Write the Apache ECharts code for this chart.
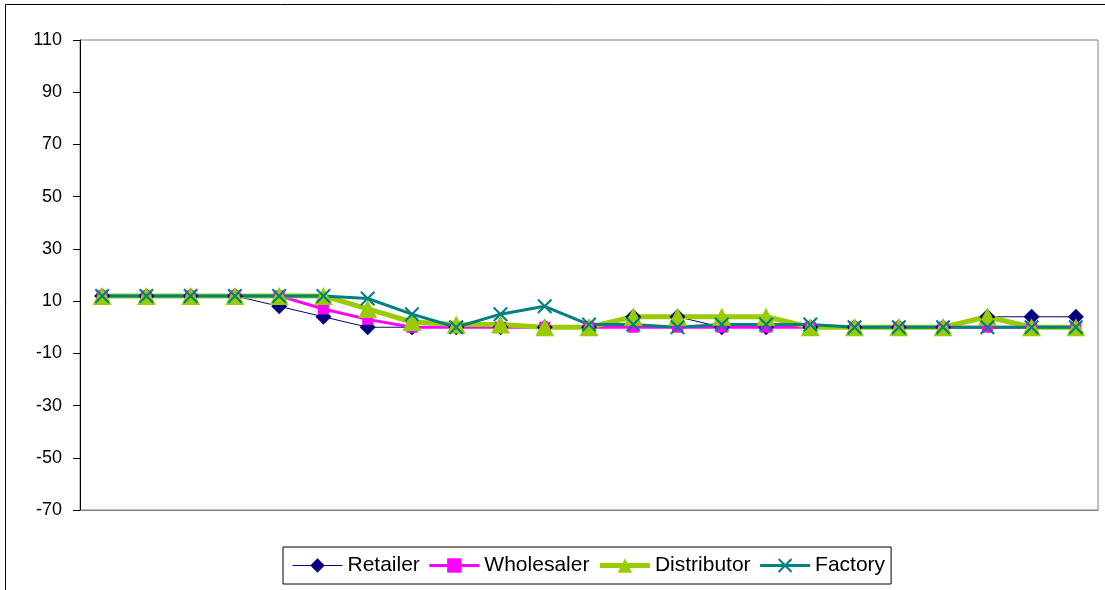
<!DOCTYPE html>
<html>
<head>
<meta charset="utf-8">
<style>
  html, body { margin: 0; padding: 0; background: #fff; }
  #chart { width: 1105px; height: 590px; }
</style>
<script src="https://cdn.jsdelivr.net/npm/echarts@6/dist/echarts.min.js"></script>
</head>
<body>
<div id="chart"></div>
<script>
// Periods 1..23 along the horizontal axis (no labels are printed)
const periods = ['1','2','3','4','5','6','7','8','9','10','11','12','13','14','15','16','17','18','19','20','21','22','23'];

// Values per supply-chain stage
const retailer    = [12,12,12,12, 8, 4, 0, 0, 0, 0, 0, 0, 4, 4, 0, 0, 0, 0, 0, 0, 4, 4, 4];
const wholesaler  = [12,12,12,12,12, 7, 3, 0, 0, 0, 0, 0, 0, 0, 0, 0, 0, 0, 0, 0, 0, 0, 0];
const distributor = [12,12,12,12,12,12, 7, 2, 1, 1, 0, 0, 4, 4, 4, 4, 0, 0, 0, 0, 4, 0, 0];
const factory     = [12,12,12,12,12,12,11, 5, 0, 5, 8, 1, 1, 0, 1, 1, 1, 0, 0, 0, 0, 0, 0];

// Y axis tick labels
const yTicks = [-70, -50, -30, -10, 10, 30, 50, 70, 90, 110];

const FONT = '"Liberation Sans", Arial, sans-serif';
const crossPath = 'path://M0,1 L1,0 L5,4 L9,0 L10,1 L6,5 L10,9 L9,10 L5,6 L1,10 L0,9 L4,5 Z';

const chart = echarts.init(document.getElementById('chart'), null, { renderer: 'canvas' });

chart.setOption({
  animation: false,
  backgroundColor: '#ffffff',
  graphic: [{
    type: 'rect',
    silent: true,
    z: -10,
    shape: { x: 5.5, y: 4.5, width: 1300, height: 800 },
    style: { fill: 'none', stroke: '#000000', lineWidth: 1 }
  }],
  grid: {
    left: 80, right: 7, top: 40, bottom: 80,
    show: true,
    borderColor: '#808080',
    borderWidth: 1,
    backgroundColor: 'transparent'
  },
  legend: {
    left: 283,
    top: 547,
    orient: 'horizontal',
    padding: [8, 6, 8, 9],
    borderColor: '#000000',
    borderWidth: 1,
    itemWidth: 50,
    itemHeight: 18,
    itemGap: 8,
    textStyle: { fontFamily: FONT, fontSize: 21, color: '#000000' },
    data: [
      { name: 'Retailer', lineStyle: { width: 1 } },
      { name: 'Wholesaler', lineStyle: { width: 3 } },
      { name: 'Distributor', lineStyle: { width: 5 } },
      { name: 'Factory', lineStyle: { width: 3 } }
    ]
  },
  xAxis: {
    type: 'category',
    data: periods,
    boundaryGap: true,
    axisLine: { show: true, onZero: false, lineStyle: { color: '#808080', width: 1 } },
    axisTick: { show: false },
    axisLabel: { show: false },
    splitLine: { show: false }
  },
  yAxis: {
    type: 'value',
    min: -70,
    max: 110,
    interval: 10,
    axisLine: { show: true, lineStyle: { color: '#000000', width: 1 } },
    axisTick: {
      show: true, inside: false, length: 7,
      customValues: yTicks,
      lineStyle: { color: '#000000' }
    },
    axisLabel: {
      show: true,
      customValues: yTicks,
      margin: 18,
      fontFamily: FONT,
      fontSize: 18,
      color: '#000000'
    },
    splitLine: { show: false }
  },
  series: [
    {
      name: 'Retailer',
      type: 'line',
      data: retailer,
      symbol: 'diamond',
      symbolSize: 16,
      showAllSymbol: true,
      lineStyle: { color: '#000080', width: 1 },
      itemStyle: { color: '#000080' }
    },
    {
      name: 'Wholesaler',
      type: 'line',
      data: wholesaler,
      symbol: 'rect',
      symbolSize: 11,
      showAllSymbol: true,
      lineStyle: { color: '#FF00FF', width: 3 },
      itemStyle: { color: '#FF00FF' }
    },
    {
      name: 'Distributor',
      type: 'line',
      data: distributor,
      symbol: 'triangle',
      symbolSize: [19, 18],
      showAllSymbol: true,
      lineStyle: { color: '#99CC00', width: 5 },
      itemStyle: { color: '#99CC00' }
    },
    {
      name: 'Factory',
      type: 'line',
      data: factory,
      symbol: crossPath,
      symbolSize: 15,
      showAllSymbol: true,
      lineStyle: { color: '#008080', width: 3 },
      itemStyle: { color: '#008080' }
    }
  ]
});
</script>
</body>
</html>
